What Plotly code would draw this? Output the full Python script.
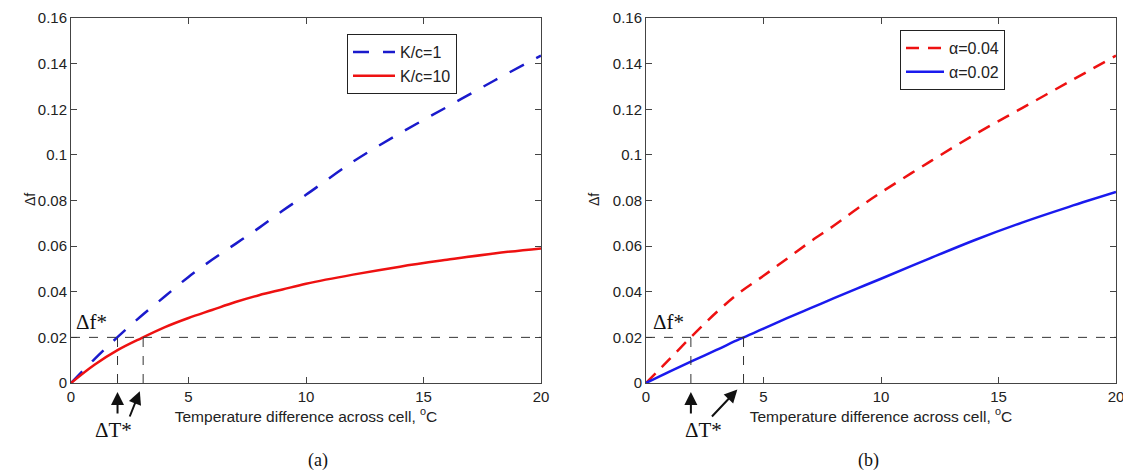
import plotly.graph_objects as go

# Temperature difference (°C)
x_vals = [0, 1, 2, 3, 4, 5, 6, 7, 8, 9, 10, 12, 14, 16, 18, 20]

# Panel (a)
kc1 = [0, 0.0105, 0.0203, 0.0295, 0.038, 0.0465, 0.054, 0.061, 0.068, 0.0755, 0.0825,
       0.097, 0.1095, 0.121, 0.1325, 0.1435]
kc10 = [0, 0.0080, 0.0145, 0.0197, 0.0245, 0.0285, 0.032, 0.0355, 0.0385, 0.041, 0.0435,
        0.0475, 0.051, 0.054, 0.0568, 0.059]

# Panel (b)
a004 = [0, 0.0105, 0.021, 0.031, 0.0398, 0.047, 0.0545, 0.062, 0.069, 0.0765, 0.0835,
        0.0965, 0.109, 0.1205, 0.132, 0.1435]
a002 = [0, 0.005, 0.0098, 0.0145, 0.0193, 0.0238, 0.0284, 0.0328, 0.0372, 0.0415, 0.0457,
        0.0543, 0.0627, 0.0703, 0.0772, 0.0837]

df_star = 0.02
dT_star_a = [1.98, 3.07]
dT_star_b = [1.91, 4.15]

y_ticks = [0, 0.02, 0.04, 0.06, 0.08, 0.1, 0.12, 0.14, 0.16]
y_ticktext = ["0", "0.02", "0.04", "0.06", "0.08", "0.1", "0.12", "0.14", "0.16"]
x_ticks = [0, 5, 10, 15, 20]

W, H = 1123, 472


def px(xr):
    return xr / W


def py(yr):
    return 1 - yr / H


fig = go.Figure()

fig.add_trace(go.Scatter(x=x_vals, y=kc1, mode="lines", name="K/c=1",
                         line=dict(color="#1a1acc", width=2.5, dash="16px,14px", shape="spline"),
                         xaxis="x", yaxis="y", legend="legend"))
fig.add_trace(go.Scatter(x=x_vals, y=kc10, mode="lines", name="K/c=10",
                         line=dict(color="#ee1111", width=2.5, shape="spline"),
                         xaxis="x", yaxis="y", legend="legend"))
fig.add_trace(go.Scatter(x=x_vals, y=a004, mode="lines", name="α=0.04",
                         line=dict(color="#ee1111", width=2.5, dash="13px,9px", shape="spline"),
                         xaxis="x2", yaxis="y2", legend="legend2"))
fig.add_trace(go.Scatter(x=x_vals, y=a002, mode="lines", name="α=0.02",
                         line=dict(color="#1a1aee", width=2.5, shape="spline"),
                         xaxis="x2", yaxis="y2", legend="legend2"))

# Reference dashed lines
for xr, yr, dts in (("x", "y", dT_star_a), ("x2", "y2", dT_star_b)):
    fig.add_shape(type="line", xref=xr, yref=yr, x0=0, x1=20, y0=df_star, y1=df_star,
                  line=dict(color="#333", width=1, dash="dash"))
    for t in dts:
        fig.add_shape(type="line", xref=xr, yref=yr, x0=t, x1=t, y0=0, y1=df_star,
                      line=dict(color="#333", width=1, dash="dash"))

axis_common = dict(showline=True, linecolor="#444", linewidth=1, mirror="ticks",
                   ticks="inside", ticklen=6, tickcolor="#444", showgrid=False,
                   zeroline=False, automargin=False, ticklabeloverflow="allow",
                   tickfont=dict(family="Arial", size=15, color="#222"))

xtitle = "Temperature difference across cell, <sup>o</sup>C"
title_font = dict(family="Arial", size=15.5, color="#222")
ydom = [py(383), py(18)]
legend_font = dict(family="Arial", size=16, color="#222")
fig.update_layout(
    width=W, height=H,
    paper_bgcolor="white", plot_bgcolor="white",
    margin=dict(l=0, r=0, t=0, b=0, autoexpand=False),
    showlegend=True,
    xaxis=dict(domain=[px(71), px(541)], range=[0, 20], tickvals=x_ticks, anchor="y",
               title=dict(text=xtitle, font=title_font, standoff=4), **axis_common),
    yaxis=dict(domain=ydom, range=[0, 0.16], tickvals=y_ticks, ticktext=y_ticktext,
               anchor="x", **axis_common),
    xaxis2=dict(domain=[px(646), px(1116)], range=[0, 20], tickvals=x_ticks, anchor="y2",
                title=dict(text=xtitle, font=title_font, standoff=4), **axis_common),
    yaxis2=dict(domain=ydom, range=[0, 0.16], tickvals=y_ticks, ticktext=y_ticktext,
                anchor="x2", **axis_common),
    legend=dict(x=px(347), y=py(34), xanchor="left", yanchor="top", bgcolor="white",
                bordercolor="#222", borderwidth=1, font=legend_font, itemwidth=42,
                tracegroupgap=0),
    legend2=dict(x=px(900), y=py(30), xanchor="left", yanchor="top", bgcolor="white",
                 bordercolor="#222", borderwidth=1, font=legend_font, itemwidth=38,
                 tracegroupgap=0),
)

# y-axis titles
for xr in (20, 594):
    fig.add_annotation(x=px(xr), y=py(200), xref="paper", yref="paper", text="Δf", showarrow=False,
                       textangle=-90, font=dict(family="Arial", size=14, color="#222"))

serif = dict(family="Times New Roman, Liberation Serif, serif", size=21, color="#111")

# Δf* labels
fig.add_annotation(x=0.0, y=df_star, xref="x", yref="y", text="Δf*", showarrow=False,
                   xanchor="left", yanchor="bottom", xshift=3, yshift=1, font=serif)
fig.add_annotation(x=0.0, y=df_star, xref="x2", yref="y2", text="Δf*", showarrow=False,
                   xanchor="left", yanchor="bottom", xshift=5, yshift=1, font=serif)

# ΔT* labels and arrows
for xr, yr, dts, tx, dax in (("x", "y", dT_star_a, 1.8, -14), ("x2", "y2", dT_star_b, 2.45, -33)):
    fig.add_annotation(x=dts[0], y=0, xref=xr, yref=yr, ax=0, ay=32,
                       showarrow=True, arrowhead=2, arrowsize=1.3, arrowwidth=2, arrowcolor="#111",
                       standoff=9, text="")
    fig.add_annotation(x=dts[1], y=0, xref=xr, yref=yr, ax=dax, ay=35,
                       showarrow=True, arrowhead=2, arrowsize=1.3, arrowwidth=2, arrowcolor="#111",
                       standoff=9, text="")
    fig.add_annotation(x=tx, y=0, xref=xr, yref=yr, text="ΔT*", showarrow=False,
                       yanchor="top", yshift=-33, font=serif)

# Panel captions
cap_font = dict(family="Times New Roman, Liberation Serif, serif", size=18, color="#111")
fig.add_annotation(x=px(306), y=0.0, xref="paper", yref="paper", text="(a)", showarrow=False,
                   yanchor="bottom", yshift=-1, font=cap_font)
fig.add_annotation(x=px(881), y=0.0, xref="paper", yref="paper", text="(b)", showarrow=False,
                   yanchor="bottom", yshift=-1, font=cap_font)

fig.write_html("out.html", config={"displayModeBar": False},
               post_script="document.body.style.margin='0';")
